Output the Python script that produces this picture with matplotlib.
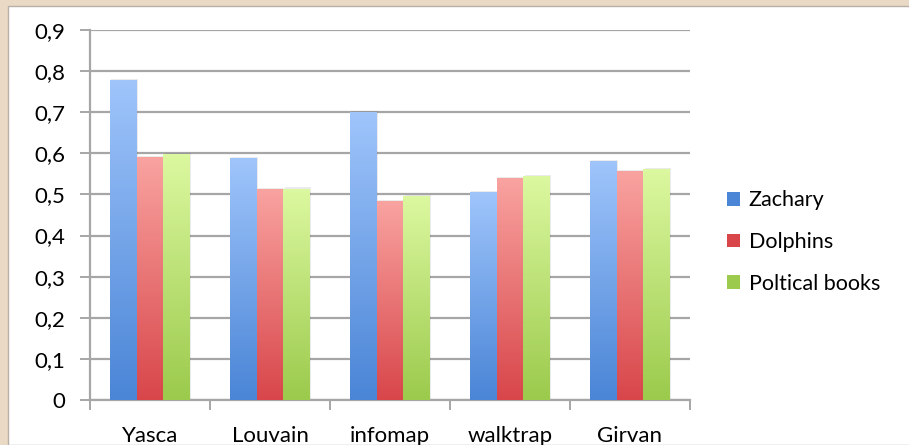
import numpy as np
import matplotlib.pyplot as plt
from matplotlib.colors import LinearSegmentedColormap
from matplotlib.patches import Rectangle
from matplotlib.ticker import FuncFormatter, FixedLocator

methods = ["Yasca", "Louvain", "infomap", "walktrap", "Girvan"]
series = ["Zachary", "Dolphins", "Poltical books"]
zachary = [0.776, 0.587, 0.700, 0.505, 0.581]
dolphins = [0.590, 0.512, 0.482, 0.538, 0.556]
political_books = [0.598, 0.513, 0.494, 0.544, 0.560]

# (top colour, bottom colour) for each series
shades = [("#9fc5fb", "#4a85d6"), ("#f9a3a0", "#d8464a"), ("#dcf8a0", "#9bca4c")]

plt.rcParams["font.family"] = ["Lato", "DejaVu Sans"]
fs = 16

fig = plt.figure(figsize=(9.09, 4.45), dpi=100, facecolor="#ead9c4")
fig.add_artist(Rectangle((8 / 909, 0), 1, 1 - 6 / 445, transform=fig.transFigure,
                         facecolor="white", edgecolor="#b8b0a6", linewidth=1.0,
                         zorder=-10))

ax = fig.add_axes([90 / 909, 1 - 400 / 445, 600 / 909, 370 / 445])
ax.set_facecolor("none")
ax.set_zorder(1)

x = np.arange(len(methods))
w = 0.222
grad = np.linspace(1, 0, 256).reshape(-1, 1)

for k, (vals, (top, bottom)) in enumerate(zip([zachary, dolphins, political_books], shades)):
    cmap = LinearSegmentedColormap.from_list(series[k], [bottom, top])
    for xi, v in zip(x, vals):
        left = xi + (k - 1) * w - w / 2
        # faint drop shadow
        ax.add_patch(Rectangle((left + 0.012, 0), w, v + 0.004, facecolor="#000000",
                               alpha=0.08, linewidth=0, zorder=2))
        ax.imshow(grad, cmap=cmap, aspect="auto", extent=(left, left + w, 0, v),
                  zorder=3, vmin=0, vmax=1)

ax.set_xlim(-0.5, len(methods) - 0.5)
ax.set_ylim(0, 0.9)

ax.yaxis.set_major_locator(FixedLocator(np.arange(0, 0.91, 0.1)))
ax.yaxis.set_major_formatter(FuncFormatter(lambda v, p: "0" if abs(v) < 1e-9 else f"{v:.1f}".replace(".", ",")))
ax.grid(axis="y", color="#a6a6a6", linewidth=1.6, zorder=1)
ax.set_axisbelow(True)

ax.set_xticks(x)
ax.set_xticklabels(methods)
ax.set_xticks(np.arange(-0.5, len(methods), 1.0), minor=True)
ax.tick_params(axis="x", which="major", length=0, pad=19, labelsize=fs, colors="black")
ax.tick_params(axis="x", which="minor", length=7, width=1.4, color="#a6a6a6")
ax.tick_params(axis="y", length=7, width=1.4, color="#a6a6a6", pad=11, labelsize=fs)

for side in ["top", "right"]:
    ax.spines[side].set_visible(False)
for side in ["left", "bottom"]:
    ax.spines[side].set_color("#a6a6a6")
    ax.spines[side].set_linewidth(1.6)

handles = [Rectangle((0, 0), 1, 1, facecolor=b) for _, b in shades]
fig.legend(handles, series, loc="center left", bbox_to_anchor=(708 / 909, 1 - 242 / 445),
           frameon=False, fontsize=15.5, handlelength=0.6, handleheight=0.6,
           handletextpad=0.4, labelspacing=1.0)

fig.savefig("out.png", dpi=100, facecolor=fig.get_facecolor())
